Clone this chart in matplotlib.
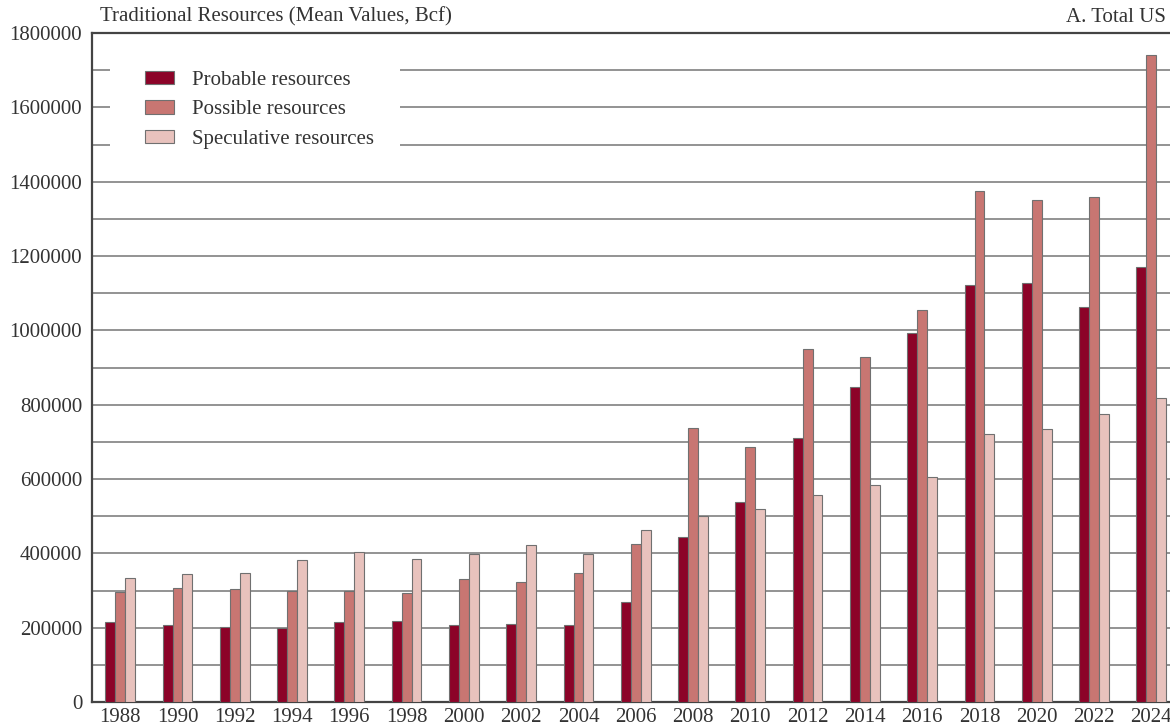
import matplotlib
matplotlib.use("Agg")
import matplotlib.pyplot as plt
from matplotlib.patches import Rectangle
import numpy as np

years = ["1988", "1990", "1992", "1994", "1996", "1998", "2000", "2002", "2004", "2006",
         "2008", "2010", "2012", "2014", "2016", "2018", "2020", "2022", "2024"]
probable = [215000, 206000, 202000, 198000, 215000, 218000, 207000, 211000, 206000, 270000,
            443000, 537000, 709000, 847000, 994000, 1122000, 1127000, 1064000, 1171000]
possible = [297000, 306000, 303000, 300000, 300000, 293000, 332000, 323000, 347000, 426000,
            736000, 687000, 951000, 929000, 1056000, 1375000, 1350000, 1358000, 1740000]
speculative = [333000, 344000, 346000, 382000, 404000, 386000, 398000, 422000, 398000, 462000,
               501000, 519000, 556000, 585000, 606000, 722000, 735000, 775000, 818000]
series_names = ["Probable resources", "Possible resources", "Speculative resources"]
colors = ["#8c0328", "#c87672", "#e8c2bd"]

plt.rcParams["font.family"] = ["Liberation Serif", "DejaVu Serif"]
FS = 15

W, H = 1170, 727
fig = plt.figure(figsize=(W / 100, H / 100), dpi=100)
left_px, right_px, top_px, bottom_px = 92, 1180, 33, 702
ax = fig.add_axes([left_px / W, 1 - bottom_px / H, (right_px - left_px) / W, (bottom_px - top_px) / H])

x = np.arange(len(years))
w = 0.173
for i, (vals, name, c) in enumerate(zip([probable, possible, speculative], series_names, colors)):
    ax.bar(x + (i - 1) * w, vals, width=w, color=c, edgecolor="#707070", linewidth=0.8,
           label=name, zorder=3)

ax.set_xlim(-0.492, 18.5)
ax.set_ylim(0, 1800000)
ax.set_yticks(np.arange(0, 1800001, 200000))
ax.set_yticklabels([f"{v:d}" for v in range(0, 1800001, 200000)])
ax.set_yticks(np.arange(100000, 1800000, 200000), minor=True)
ax.set_xticks(x)
ax.set_xticklabels(years)
ax.grid(axis="y", which="both", color="#8a8a8a", linewidth=1.3, zorder=0)
ax.set_axisbelow(True)
ax.tick_params(axis="both", which="both", length=0, labelsize=FS, colors="#333333")
ax.tick_params(axis="y", pad=7)
ax.tick_params(axis="x", pad=4)
for s in ["left", "top", "bottom"]:
    ax.spines[s].set_color("#444444")
    ax.spines[s].set_linewidth(1.6)
ax.spines["right"].set_visible(False)

# white backing behind the legend (hides gridlines like the original)
ax.add_patch(Rectangle((110 / W, 1 - 152 / H), (400 - 110) / W, (152 - 50) / H,
                       transform=fig.transFigure, facecolor="white", edgecolor="none", zorder=2))

leg = ax.legend(loc="upper left",
                bbox_to_anchor=((145 - left_px) / (right_px - left_px), 1 - (71 - top_px) / (bottom_px - top_px)),
                fontsize=FS, frameon=False, handlelength=1.4, handleheight=0.6, labelspacing=0.5,
                handletextpad=0.85, borderpad=0, borderaxespad=0)
for t in leg.get_texts():
    t.set_color("#333333")
leg.set_zorder(5)

fig.text(100 / W, 1 - 17 / H, "Traditional Resources (Mean Values, Bcf)", fontsize=FS,
         color="#333333", ha="left", va="center")
fig.text(1166 / W, 1 - 17 / H, "A. Total US", fontsize=FS, color="#333333", ha="right", va="center")

fig.savefig("out.png", dpi=100)
